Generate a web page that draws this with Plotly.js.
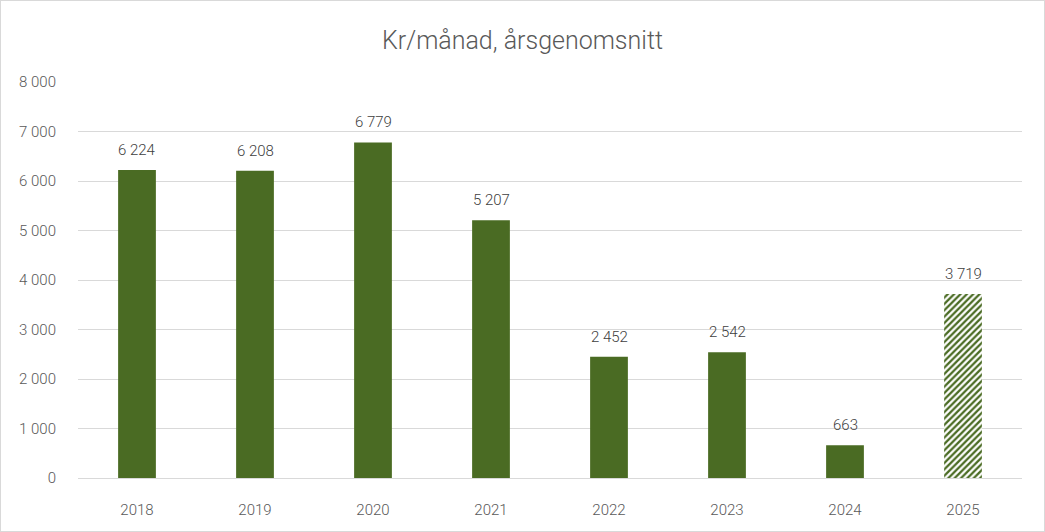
<!DOCTYPE html>
<html><head><meta charset="utf-8">
<script src="https://cdn.plot.ly/plotly-3.0.1.min.js"></script>
<style>html,body{margin:0;padding:0;background:#fff}#wrap{position:relative;width:1045px;height:532px}#chart{width:1045px;height:532px}#frame{position:absolute;left:0;top:0;width:1045px;height:532px;box-sizing:border-box;border:1px solid #d9d9d9;pointer-events:none}</style>
</head><body>
<div id="wrap"><div id="chart"></div><div id="frame"></div></div>
<script>
const years = ['2018','2019','2020','2021','2022','2023','2024','2025'];
const values = [6224, 6208, 6779, 5207, 2452, 2542, 663, 3719];
const patterns = ['', '', '', '', '', '', '', '/'];
const titleText = 'Kr/månad, årsgenomsnitt';
const green = '#4a6b23';

function fmt(v){return String(v).replace(/\B(?=(\d{3})+(?!\d))/g,' ');}

const trace = {
  type: 'bar', x: years, y: values,
  marker: {color: green, line: {width: 0},
    pattern: {shape: patterns, fgcolor: green, bgcolor: '#ffffff', size: 4.5, solidity: 0.5, fillmode: 'replace'}},
  hoverinfo: 'none'
};
const annotations = years.map((yr, i) => ({
  x: i, y: values[i], xref: 'x', yref: 'y', text: fmt(values[i]),
  showarrow: false, yanchor: 'bottom', yshift: 9,
  font: {family: 'Roboto', weight: 300, size: 15, color: '#404040'}
}));
const layout = {
  width: 1045, height: 532,
  margin: {l: 78, r: 23, t: 82, b: 54},
  paper_bgcolor: '#ffffff', plot_bgcolor: '#ffffff',
  separators: ', ',
  title: {text: titleText, x: 0.5, xanchor: 'center', y: 0.925, yanchor: 'middle',
    font: {family: 'Roboto', weight: 300, size: 25, color: '#595959'}},
  bargap: 0.68,
  showlegend: false,
  xaxis: {type: 'category', range: [-0.5, 7.5], autorange: false, showgrid: false, zeroline: false, showline: false,
    ticks: 'outside', ticklen: 18, tickcolor: 'rgba(0,0,0,0)',
    tickfont: {family: 'Roboto', weight: 300, size: 15, color: '#595959'}},
  yaxis: {range: [0, 8000], autorange: false, dtick: 1000, tickformat: ',', showgrid: true, gridcolor: '#d9d9d9', gridwidth: 1,
    zeroline: true, zerolinecolor: '#d9d9d9', zerolinewidth: 1, showline: false, ticks: 'outside', ticklen: 18, tickcolor: 'rgba(0,0,0,0)',
    tickfont: {family: 'Roboto', weight: 300, size: 15, color: '#595959'}},
  annotations: annotations
};
Plotly.newPlot('chart', [trace], layout, {displayModeBar: false, staticPlot: true});
</script>
</body></html>
